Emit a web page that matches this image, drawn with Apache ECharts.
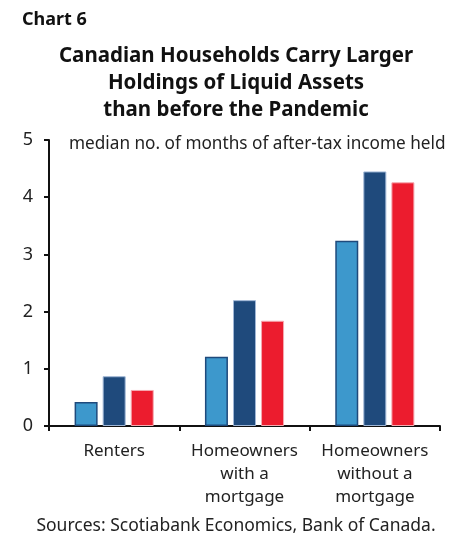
<!DOCTYPE html>
<html>
<head>
<meta charset="utf-8">
<script src="https://cdn.jsdelivr.net/npm/echarts@6/dist/echarts.min.js"></script>
<style>
  html, body { margin: 0; padding: 0; background: #fff; }
  #chart { width: 463px; height: 538px; }
</style>
</head>
<body>
<div id="chart"></div>
<script>
// categories along the x axis
const categories = ['Renters', 'Homeowners\nwith a\nmortgage', 'Homeowners\nwithout a\nmortgage']
// three bar series (no legend in the original)
const lightValues = [0.42, 1.21, 3.24]
const darkValues = [0.87, 2.20, 4.45]
const redValues = [0.63, 1.84, 4.26]
const yTicks = [0, 1, 2, 3, 4, 5]

const chart = echarts.init(document.getElementById('chart'))
const font = '"Noto Sans", "Open Sans", sans-serif'

const option = {
  backgroundColor: '#fff',
  textStyle: { fontFamily: font },
  title: [
    {
      text: 'Chart 6',
      left: 17, top: 6,
      textStyle: { fontFamily: font, fontSize: 18, fontWeight: 'bold', color: '#111' }
    },
    {
      text: 'Canadian Households Carry Larger\nHoldings of Liquid Assets\nthan before the Pandemic',
      left: 231, top: 38,
      textAlign: 'center',
      textStyle: { fontFamily: font, fontSize: 20.5, fontWeight: 'bold', color: '#111', lineHeight: 27 }
    },
    {
      text: 'median no. of months of after-tax income held',
      left: 64, top: 131,
      textStyle: { fontFamily: font, fontSize: 17.2, fontWeight: 'normal', color: '#222' }
    },
    {
      text: 'Sources: Scotiabank Economics, Bank of Canada.',
      left: 231, top: 512,
      textAlign: 'center',
      textStyle: { fontFamily: font, fontSize: 17.5, fontWeight: 'normal', color: '#222' }
    }
  ],
  grid: { left: 49, right: 23, top: 140, bottom: 112 },
  xAxis: {
    type: 'category',
    data: categories,
    axisLine: { lineStyle: { color: '#111', width: 2 } },
    axisTick: { show: true, length: 5, lineStyle: { color: '#111', width: 2 } },
    axisLabel: { fontFamily: font, fontSize: 17, color: '#222', lineHeight: 23, margin: 14, interval: 0 }
  },
  yAxis: {
    type: 'value',
    min: yTicks[0], max: yTicks[yTicks.length - 1], interval: 1,
    splitLine: { show: false },
    axisLine: { show: true, lineStyle: { color: '#111', width: 2 } },
    axisTick: { show: true, length: 5, lineStyle: { color: '#111', width: 2 } },
    axisLabel: { fontFamily: font, fontSize: 18, color: '#222', margin: 16 }
  },
  series: [
    {
      type: 'bar', data: lightValues, barWidth: 23, barGap: '22%',
      itemStyle: { color: '#3d98cc', borderColor: '#1f4a7c', borderWidth: 1.5 }
    },
    {
      type: 'bar', data: darkValues, barWidth: 23, barGap: '22%',
      itemStyle: { color: '#1f4a7c', borderColor: '#9fb6d6', borderWidth: 1 }
    },
    {
      type: 'bar', data: redValues, barWidth: 23, barGap: '22%',
      itemStyle: { color: '#ec1c2e', borderColor: '#f5a9b0', borderWidth: 1 }
    }
  ]
}
chart.setOption(option)
</script>
</body>
</html>
